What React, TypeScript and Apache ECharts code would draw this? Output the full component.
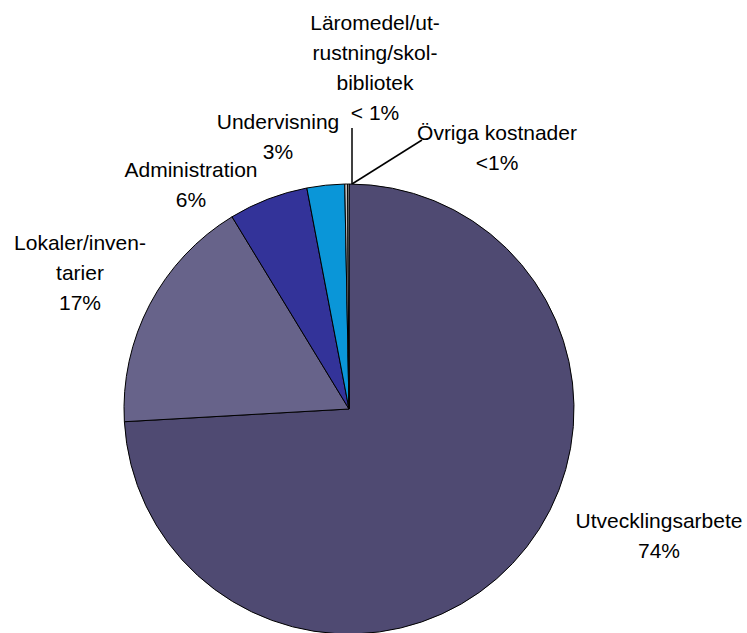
import React, { useEffect, useRef } from "react";
import * as echarts from "echarts";

const categories = [
  "Utvecklingsarbete",
  "Lokaler/inventarier",
  "Administration",
  "Undervisning",
  "Läromedel/utrustning/skolbibliotek",
  "Övriga kostnader",
];
const values = [74.1, 17.2, 5.7, 2.7, 0.2, 0.1];
const labelTexts = [
  "Utvecklingsarbete\n74%",
  "Lokaler/inven-\ntarier\n17%",
  "Administration\n6%",
  "Undervisning\n3%",
  "Läromedel/ut-\nrustning/skol-\nbibliotek\n< 1%",
  "Övriga kostnader\n<1%",
];
const colors = ["#4f4a72", "#67638a", "#333399", "#0a96d8", "#c0c0c0", "#e8e8e8"];

// label block centres (layout only)
const labelPos = [
  [659, 535],
  [80, 272],
  [191, 184],
  [278, 136],
  [375, 67],
  [497, 147],
];
const leaderLines: Record<number, number[][]> = {
  4: [[352, 184], [352, 156], [352, 128]],
  5: [[352, 184], [387, 162], [422, 140]],
};

export default function App() {
  const ref = useRef<HTMLDivElement>(null);
  useEffect(() => {
    document.body.style.margin = "0";
    const chart = echarts.init(ref.current!, null, { renderer: "svg" });
    chart.setOption({
      animation: false,
      backgroundColor: "#ffffff",
      series: [
        {
          type: "pie",
          center: [349, 409],
          radius: 225,
          startAngle: 90,
          clockwise: true,
          avoidLabelOverlap: false,
          emphasis: { disabled: true },
          itemStyle: { borderColor: "#000000", borderWidth: 1 },
          label: {
            show: true,
            position: "outside",
            fontFamily: "Liberation Sans, Arial, sans-serif",
            fontSize: 21,
            lineHeight: 30,
            color: "#000000",
            align: "center",
          },
          labelLine: { show: false, lineStyle: { color: "#000000", width: 1.5 } },
          labelLayout: (params: any) => {
            const i = params.dataIndex;
            const res: any = {
              x: labelPos[i][0],
              y: labelPos[i][1],
              align: "center",
              verticalAlign: "middle",
              hideOverlap: false,
            };
            if (leaderLines[i]) res.labelLinePoints = leaderLines[i];
            return res;
          },
          data: categories.map((name, i) => ({
            name,
            value: values[i],
            itemStyle: { color: colors[i] },
            label: { formatter: labelTexts[i] },
            labelLine: { show: !!leaderLines[i] },
          })),
        },
      ],
    });
    return () => chart.dispose();
  }, []);
  return <div ref={ref} style={{ width: 747, height: 633 }} />;
}
